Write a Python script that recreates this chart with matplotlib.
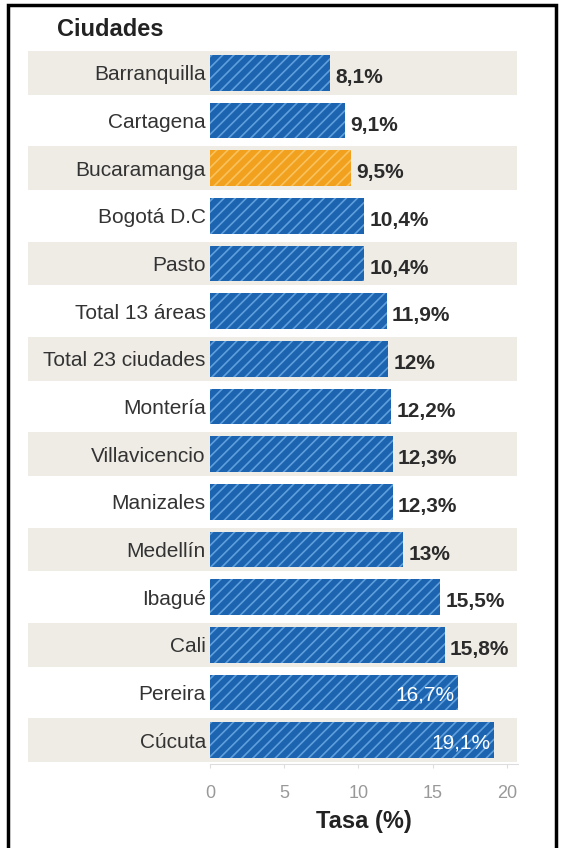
import matplotlib.pyplot as plt
from matplotlib.patches import Rectangle

ciudades = ['Barranquilla', 'Cartagena', 'Bucaramanga', 'Bogotá D.C', 'Pasto',
            'Total 13 áreas', 'Total 23 ciudades', 'Montería', 'Villavicencio',
            'Manizales', 'Medellín', 'Ibagué', 'Cali', 'Pereira', 'Cúcuta']
tasa = [8.1, 9.1, 9.5, 10.4, 10.4, 11.9, 12.0, 12.2, 12.3, 12.3, 13.0, 15.5, 15.8, 16.7, 19.1]
etiquetas = ['8,1%', '9,1%', '9,5%', '10,4%', '10,4%', '11,9%', '12%', '12,2%', '12,3%',
             '12,3%', '13%', '15,5%', '15,8%', '16,7%', '19,1%']
resaltada = 'Bucaramanga'
ticks = [0, 5, 10, 15, 20]

plt.rcParams['font.family'] = ['Liberation Sans', 'DejaVu Sans']
plt.rcParams['hatch.linewidth'] = 1.2

fig = plt.figure(figsize=(5.65, 8.48), dpi=100)
fig.patch.set_facecolor('white')
ax = fig.add_axes([210 / 565, 1 - 764 / 848, 308 / 565, 715 / 848])

y = list(range(len(ciudades)))

# franjas de fondo alternas
for i in y:
    if i % 2 == 0:
        ax.barh(i, 32.95, left=-12.25, height=0.92, color='#efece6', zorder=0, clip_on=False)

for i, (c, v) in enumerate(zip(ciudades, tasa)):
    if c == resaltada:
        fc, hc = '#f2a11f', '#f8c25e'
    else:
        fc, hc = '#1c64b0', '#5f9fdc'
    ax.barh(i, v, height=0.75, color=fc, edgecolor=hc, linewidth=0, hatch='///', zorder=2)

for i, (v, t) in enumerate(zip(tasa, etiquetas)):
    if v > 16:
        ax.text(v - 0.2, i + 0.05, t, ha='right', va='center', color='white',
                fontsize=15, zorder=3)
    else:
        ax.text(v + 0.35, i + 0.1, t, ha='left', va='center', color='#2b2b2b',
                fontsize=15, fontweight='bold', zorder=3)

ax.set_ylim(14.5, -0.5)
ax.set_xlim(0, 20.75)
ax.set_yticks(y)
ax.set_yticklabels(ciudades, fontsize=15, color='#333333')
ax.set_xticks(ticks)
ax.set_xticklabels([str(t) for t in ticks], fontsize=13, color='#999999')
ax.tick_params(axis='y', length=0, pad=3)
ax.tick_params(axis='x', length=3, color='#dddddd', pad=12)
for s in ['top', 'right', 'left']:
    ax.spines[s].set_visible(False)
ax.spines['bottom'].set_color('#dddddd')
ax.set_xlabel('Tasa (%)', fontsize=17, fontweight='bold', color='#222222', labelpad=6)
ax.set_facecolor('none')

fig.text(57 / 565, 1 - 30 / 848, 'Ciudades', fontsize=17, fontweight='bold',
         color='#222222', va='center', ha='left')

# marco negro
fig.patches.append(Rectangle((8 / 565, -0.05), 548 / 565, 1 - 5 / 848 + 0.05,
                             transform=fig.transFigure, fill=False,
                             edgecolor='black', linewidth=2.5))

fig.savefig('out.png', dpi=100)
